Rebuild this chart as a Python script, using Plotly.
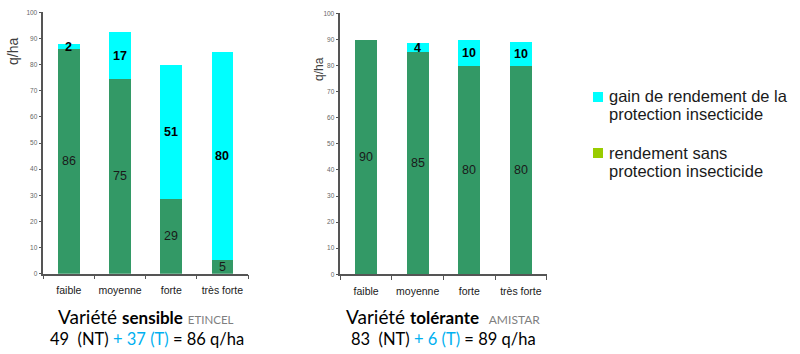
import plotly.graph_objects as go

# ---- data ----
categories = ["faible", "moyenne", "forte", "très forte"]

sens_nt = [86, 74.6, 28.5, 5.2]          # rendement sans protection (variété sensible)
sens_t = [1.8, 17.7, 51.2, 79.7]         # gain de rendement (variété sensible)
sens_nt_lbl = ["86", "75", "29", "5"]
sens_t_lbl = ["2", "17", "51", "80"]

tol_nt = [89.7, 85.1, 79.7, 79.7]        # rendement sans protection (variété tolérante)
tol_t = [0, 3.5, 10.1, 9.2]              # gain de rendement (variété tolérante)
tol_nt_lbl = ["90", "85", "80", "80"]
tol_t_lbl = ["", "4", "10", "10"]

y_ticks = [0, 10, 20, 30, 40, 50, 60, 70, 80, 90, 100]

GREEN = "#339966"
CYAN = "#00FFFF"
LEG_GREEN = "#99CC00"
BLUE = "#00B0F0"

W, H = 800, 354

def px(x):
    return x / W

def py(y):
    return 1 - y / H

fig = go.Figure()

for nt, t, xa, ya in [(sens_nt, sens_t, "x", "y"), (tol_nt, tol_t, "x2", "y2")]:
    fig.add_trace(go.Bar(x=categories, y=nt, marker=dict(color=GREEN, line=dict(width=0)),
                         xaxis=xa, yaxis=ya, showlegend=False, hoverinfo="skip"))
    fig.add_trace(go.Bar(x=categories, y=t, marker=dict(color=CYAN, line=dict(width=0)),
                         xaxis=xa, yaxis=ya, showlegend=False, hoverinfo="skip"))

annotations = []
for nt, t, ntl, tl, xa, ya in [(sens_nt, sens_t, sens_nt_lbl, sens_t_lbl, "x", "y"),
                               (tol_nt, tol_t, tol_nt_lbl, tol_t_lbl, "x2", "y2")]:
    for c, a, b, la, lb in zip(categories, nt, t, ntl, tl):
        annotations.append(dict(x=c, y=a / 2, xref=xa, yref=ya, text=la, showarrow=False,
                                font=dict(family="Liberation Sans, Arial", size=12.5, color="#1a1a1a")))
        if lb:
            annotations.append(dict(x=c, y=a + b / 2, xref=xa, yref=ya, text="<b>" + lb + "</b>",
                                    showarrow=False,
                                    font=dict(family="Liberation Sans, Arial", size=12.5, color="#000000")))

# y axis titles
annotations.append(dict(x=px(13), y=py(52), xref="paper", yref="paper", xanchor="center", yanchor="middle",
                        text="q/ha", textangle=-90, showarrow=False,
                        font=dict(family="Liberation Sans, Arial", size=14, color="#404040")))
annotations.append(dict(x=px(319), y=py(69), xref="paper", yref="paper", xanchor="center", yanchor="middle",
                        text="q/ha", textangle=-90, showarrow=False,
                        font=dict(family="Liberation Sans, Arial", size=12, color="#404040")))

# bottom titles
TF = "Lato, Calibri, sans-serif"
annotations.append(dict(x=px(146), y=py(316), xref="paper", yref="paper", xanchor="center", yanchor="middle",
                        text="Variété <b><span style='font-size:17px'>sensible</span></b> "
                             "<span style='font-size:11.5px;color:#7f7f7f'>ETINCEL</span>",
                        showarrow=False, font=dict(family=TF, size=19, color="#000000")))
annotations.append(dict(x=px(147), y=py(339), xref="paper", yref="paper", xanchor="center", yanchor="middle",
                        text="49\u00a0\u00a0(NT) <span style='color:%s'>+ 37 (T)</span> = 86 q/ha" % BLUE,
                        showarrow=False, font=dict(family=TF, size=16.5, color="#000000")))
annotations.append(dict(x=px(443), y=py(316), xref="paper", yref="paper", xanchor="center", yanchor="middle",
                        text="Variété <b><span style='font-size:17px'>tolérante</span></b>\u00a0\u00a0"
                             "<span style='font-size:12px;color:#7f7f7f'>AMISTAR</span>",
                        showarrow=False, font=dict(family=TF, size=19, color="#000000")))
annotations.append(dict(x=px(443), y=py(339), xref="paper", yref="paper", xanchor="center", yanchor="middle",
                        text="83\u00a0\u00a0(NT) <span style='color:%s'>+ 6 (T)</span> = 89 q/ha" % BLUE,
                        showarrow=False, font=dict(family=TF, size=16.5, color="#000000")))

# legend (manual)
LF = dict(family="Liberation Sans, Arial", size=16.5, color="#1a1a1a")
for txt, yy in [("gain de rendement de la", 96), ("protection insecticide", 114),
                ("rendement sans", 153), ("protection insecticide", 171)]:
    annotations.append(dict(x=px(607), y=py(yy), xref="paper", yref="paper", xanchor="left", yanchor="middle",
                            text=txt, showarrow=False, font=LF))

shapes = [
    dict(type="rect", xref="paper", yref="paper", x0=px(593), x1=px(603), y0=py(102), y1=py(92),
         fillcolor=CYAN, line=dict(width=0)),
    dict(type="rect", xref="paper", yref="paper", x0=px(593), x1=px(603), y0=py(158), y1=py(148),
         fillcolor=LEG_GREEN, line=dict(width=0)),
]

xcommon = dict(type="category", showline=True, linecolor="#555555", linewidth=1.5,
               ticks="outside", tickson="boundaries", ticklen=4, tickcolor="#555555", tickwidth=1,
               showgrid=False, zeroline=False, tickangle=0, automargin=False,
               tickfont=dict(family="Liberation Sans, Arial", size=10.5, color="#1a1a1a"),
               ticklabelstandoff=6)
ycommon = dict(range=[0, 100], tickmode="array", tickvals=y_ticks, showline=True, linecolor="#555555",
               linewidth=1.5, ticks="outside", ticklen=3, tickcolor="#555555", tickwidth=1,
               showgrid=False, zeroline=False, automargin=False,
               tickfont=dict(family="Liberation Sans, Arial", size=6.5, color="#666666"))

fig.update_layout(
    width=W, height=H,
    margin=dict(l=0, r=0, t=0, b=0),
    paper_bgcolor="white", plot_bgcolor="white",
    barmode="stack", bargap=0.58,
    xaxis=dict(domain=[px(43.3), px(248)], anchor="y", **xcommon),
    yaxis=dict(domain=[py(273.7), py(12.3)], anchor="x", **ycommon),
    xaxis2=dict(domain=[px(340.3), px(546.7)], anchor="y2", **xcommon),
    yaxis2=dict(domain=[py(274.3), py(13.3)], anchor="x2", **ycommon),
    annotations=annotations,
    shapes=shapes,
    showlegend=False,
)

fig.write_html("out.html")
